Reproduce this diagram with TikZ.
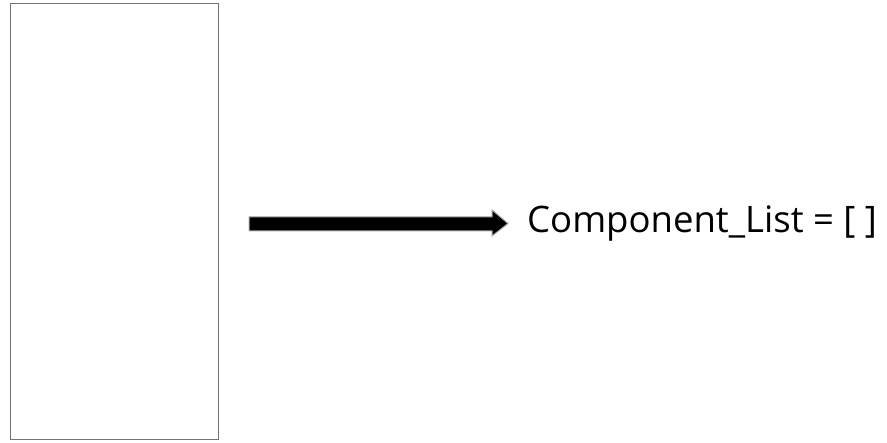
\documentclass[tikz,border=0pt]{standalone}
\usepackage{fontspec}
\setmainfont{Open Sans}
\begin{document}
\begin{tikzpicture}[x=1pt,y=1pt,
  box/.style={draw=black!55, line width=1.2pt, fill=white},
  bigarrow/.style={draw=black!35, line width=1pt, fill=black},
  lbl/.style={font=\fontsize{36.5}{42}\selectfont, inner sep=0pt, anchor=base west}]
\useasboundingbox (0,0) rectangle (887,443);
\node[box, minimum width=208pt, minimum height=436pt, anchor=south west, inner sep=0pt] (frame) at (9.5,3) {};
\draw[bigarrow] (249,226) -- (492,226) -- (492,233) -- (508,219.5) -- (492,207) -- (492,212) -- (249,212) -- cycle;
\node[lbl] (list) at (527,210) {Component\_List = [ ]};
\end{tikzpicture}
\end{document}
